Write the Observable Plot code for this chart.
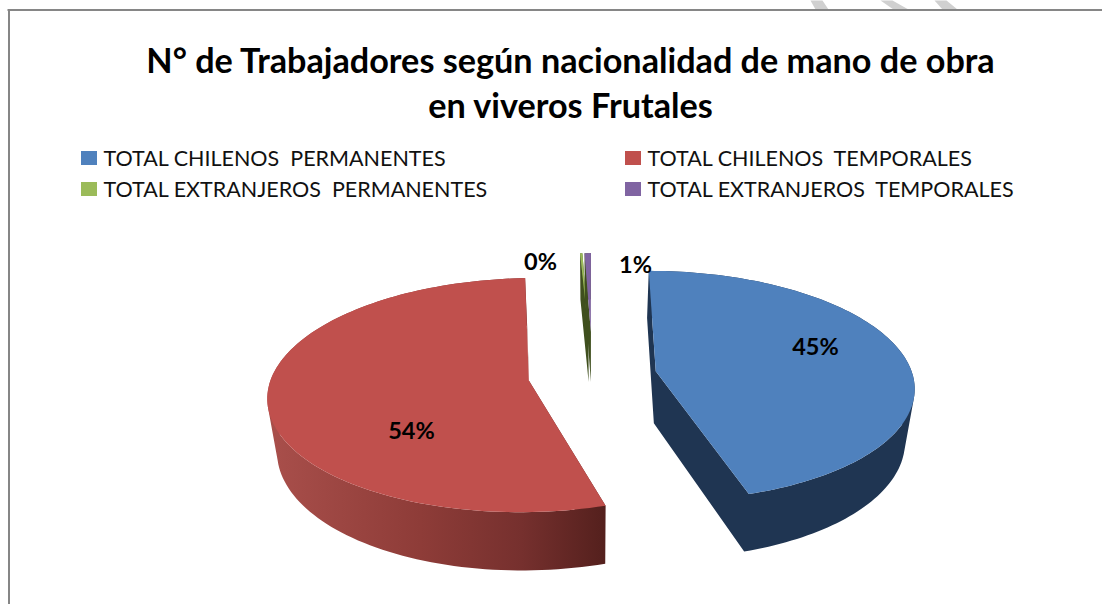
<!DOCTYPE html>
<html>
<head>
<meta charset="utf-8">
<script src="https://cdn.jsdelivr.net/npm/d3@7"></script>
<script src="https://cdn.jsdelivr.net/npm/@observablehq/plot@0.6"></script>
<style>html,body{margin:0;padding:0;background:#fff}svg{display:block}</style>
</head>
<body>
<div id="chart"></div>
<script>
// Data
const categories = ["TOTAL CHILENOS  PERMANENTES","TOTAL CHILENOS  TEMPORALES","TOTAL EXTRANJEROS  PERMANENTES","TOTAL EXTRANJEROS  TEMPORALES"];
const shares = [45.3, 53.95, 0.2, 0.55];
const titleLines = ["N° de Trabajadores según nacionalidad de mano de obra","en viveros Frutales"];

// Styles
const topColors = ["#4f81bd","#c0504d","#9bbb59","#8064a2"];
const wallColors = ["#1f3552","url(#redWall)","#3f4f1e","#3f4f1e"];

// 3D layout of the pie
const W = 1102, H = 604;
const view = {cx:592, cy:375, rx:257, ry:114, persp:0.125, depth:52, depthGrow:6, taper:0.97};
const explode = [0.25,0.25,0.40,0.40];
const radius = [1,1,0.84,0.84];
const labelAnchor = [[815,347],[411,431],[540,262],[635,265]];

const project = (u,v) => {
  const k = 1 + view.persp*v;
  return [view.cx + view.rx*u/k, view.cy - view.ry*v/k];
};
const lower = ([x,y]) => [view.cx + (x-view.cx)*view.taper, y + view.depth + view.depthGrow*(y-view.cy)/130];

// Joins the side faces of a slice into one path with the same winding, so they fill as a single shape
const joinFaces = faces => {
  const path = [], starts = [];
  faces.forEach(f => {
    const q = d3.polygonArea(f) < 0 ? [...f].reverse() : f;
    path.push(...q, q[0]);
    starts.push(q[0]);
  });
  path.push(...starts.reverse());
  return path;
};

const arcs = d3.pie().sort(null).value(d=>d)(shares);
const slices = arcs.map((a,i)=>{
  const mid = (a.startAngle+a.endAngle)/2, e = explode[i], r = radius[i];
  const ou = e*Math.sin(mid), ov = e*Math.cos(mid);
  const rim = d3.range(121).map(s=>{
    const t = a.startAngle + (a.endAngle-a.startAngle)*s/120;
    return project(ou + r*Math.sin(t), ov + r*Math.cos(t));
  });
  const apex = project(ou,ov);
  const top = [apex, ...rim];
  const faces = top.map((p,j)=>{
    const n = top[(j+1)%top.length];
    return [p, n, lower(n), lower(p)];
  });
  return {i, top, wall: joinFaces(faces)};
});

const polyRows = (poly, part) => poly.map(([x,y])=>({x,y,part}));
const marks = [];
// Gradient for the red wall
marks.push(() => {
  const defs = d3.create("svg:defs");
  const g = defs.append("linearGradient").attr("id","redWall").attr("gradientUnits","userSpaceOnUse")
    .attr("x1",268).attr("x2",605).attr("y1",0).attr("y2",0);
  [[0,"#a94f4b"],[0.45,"#8e3c38"],[0.75,"#76302e"],[1,"#54201d"]].forEach(([o,c])=>g.append("stop").attr("offset",o).attr("stop-color",c));
  return defs.node();
});

// Frame and watermark fragments above it
const frame = {left:8.5, top:9.5};
const watermark = [
  [[810,0],[822,0],[828,9],[815,9]],
  [[880,0],[892,0],[908,9],[893,9]],
  [[934,0],[946,0],[957,9],[942,9]]
];
watermark.forEach((w,i)=>marks.push(Plot.line(polyRows(w,i),{x:"x",y:"y",z:"part",fill:"#d0d0d0",stroke:"none"})));
marks.push(Plot.ruleY([frame.top],{x1:frame.left-1,x2:W,stroke:"#868686",strokeWidth:2}));
marks.push(Plot.ruleX([frame.left],{y1:frame.top,y2:H,stroke:"#868686",strokeWidth:2}));

// Pie: slivers first, then the two big slices
[2,3,0,1].forEach(i=>{
  const s = slices[i];
  marks.push(Plot.line(polyRows(s.wall,0),{x:"x",y:"y",z:"part",fill:wallColors[i],stroke:"none"}));
  marks.push(Plot.line(polyRows(s.top,0),{x:"x",y:"y",z:"part",fill:topColors[i],stroke:"none"}));
});

// Data labels
const pct = d3.format(".0%");
marks.push(Plot.text(shares,{
  x:(d,i)=>labelAnchor[i][0], y:(d,i)=>labelAnchor[i][1],
  text:d=>pct(d/100), fontSize:23.5, fontWeight:700, fill:"#000", fontFamily:"Lato"
}));

// Title
marks.push(Plot.text(titleLines,{
  x:()=>570, y:(d,i)=>[62,107][i], text:d=>d,
  fontSize:34.2, fontWeight:700, fill:"#000", fontFamily:"Lato"
}));

// Legend
const legendCols = [81,625], legendRows = [158,189];
const legendPos = categories.map((c,i)=>({c,i,x:legendCols[i%2],y:legendRows[i>>1]}));
marks.push(Plot.rect(legendPos,{x1:d=>d.x,x2:d=>d.x+16,y1:d=>d.y-7,y2:d=>d.y+7,fill:d=>topColors[d.i]}));
marks.push(Plot.text(legendPos,{
  x:d=>d.x+22, y:d=>d.y+1, text:d=>d.c, textAnchor:"start",
  fontSize:21.5, fill:"#111", fontFamily:"Lato"
}));

const chart = Plot.plot({
  width:W, height:H, margin:0,
  style:{background:"#fff"},
  x:{domain:[0,W],range:[0,W],axis:null},
  y:{domain:[0,H],range:[0,H],axis:null},
  color:{type:"identity"},
  marks
});
document.getElementById("chart").append(chart);
</script>
</body>
</html>
